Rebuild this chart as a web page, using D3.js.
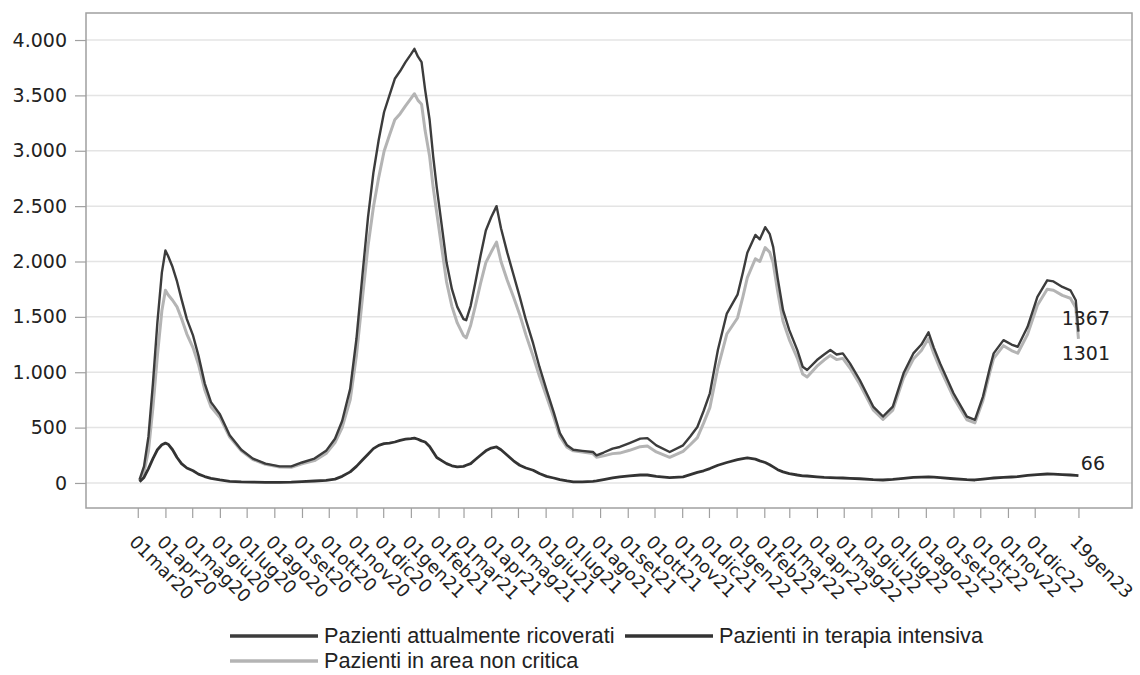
<!DOCTYPE html>
<html>
<head>
<meta charset="utf-8">
<script src="https://cdn.jsdelivr.net/npm/d3@7/dist/d3.min.js"></script>
<style>
  html, body { margin: 0; padding: 0; background: #ffffff; }
  svg { display: block; }
</style>
</head>
<body>
<svg id="chart" width="1140" height="675"></svg>
<script>
// ---------------- DATA ----------------
const dates = [
"2020-03-03","2020-03-08","2020-03-13","2020-03-18","2020-03-23","2020-03-28","2020-04-01","2020-04-04","2020-04-09","2020-04-14",
"2020-04-19","2020-04-25","2020-05-02","2020-05-08","2020-05-15","2020-05-22","2020-06-01","2020-06-12","2020-06-25","2020-07-08",
"2020-07-22","2020-08-07","2020-08-20","2020-09-01","2020-09-15","2020-09-28","2020-10-08","2020-10-16","2020-10-25","2020-11-01",
"2020-11-08","2020-11-14","2020-11-20","2020-11-26","2020-12-02","2020-12-08","2020-12-14","2020-12-20","2020-12-26","2021-01-01",
"2021-01-05","2021-01-09","2021-01-13","2021-01-17","2021-01-22","2021-01-26","2021-01-30","2021-02-05","2021-02-10","2021-02-16",
"2021-02-22","2021-03-01","2021-03-04","2021-03-09","2021-03-14","2021-03-20","2021-03-26","2021-04-01","2021-04-07","2021-04-12",
"2021-04-19","2021-04-26","2021-05-03","2021-05-10","2021-05-18","2021-05-25","2021-06-02","2021-06-10","2021-06-17","2021-06-25",
"2021-07-02","2021-07-12","2021-07-24","2021-07-28","2021-08-05","2021-08-15","2021-08-23","2021-09-03","2021-09-15","2021-09-23",
"2021-10-03","2021-10-18","2021-11-02","2021-11-10","2021-11-18","2021-11-25","2021-12-02","2021-12-11","2021-12-21","2022-01-02",
"2022-01-08","2022-01-13","2022-01-22","2022-01-27","2022-02-02","2022-02-07","2022-02-11","2022-02-16","2022-02-22","2022-03-01",
"2022-03-10","2022-03-16","2022-03-21","2022-04-01","2022-04-09","2022-04-16","2022-04-23","2022-04-30","2022-05-08","2022-05-19",
"2022-06-03","2022-06-14","2022-06-25","2022-07-07","2022-07-18","2022-07-27","2022-08-04","2022-08-10","2022-08-17","2022-09-01",
"2022-09-16","2022-09-25","2022-10-04","2022-10-12","2022-10-16","2022-10-27","2022-11-05","2022-11-12","2022-11-23","2022-12-04",
"2022-12-15","2022-12-22","2023-01-01","2023-01-10","2023-01-16","2023-01-19"
];

const ricoverati = [
30,150,420,900,1450,1900,2100,2050,1950,1820,
1660,1480,1330,1150,900,730,620,430,300,220,
175,150,150,185,220,290,400,560,850,1300,
1900,2400,2800,3100,3350,3500,3650,3720,3800,3870,
3920,3850,3800,3550,3280,2950,2670,2300,1990,1750,
1590,1480,1470,1600,1800,2050,2280,2400,2500,2300,
2080,1880,1680,1470,1260,1050,840,640,450,340,
300,290,280,250,275,310,325,360,400,405,
340,280,340,420,505,650,810,1200,1530,1700,
1900,2080,2240,2200,2310,2250,2130,1850,1560,1380,
1200,1050,1020,1110,1160,1200,1160,1170,1080,930,
690,600,690,990,1170,1250,1360,1220,1080,810,
600,570,780,1050,1170,1290,1250,1230,1410,1680,
1830,1820,1770,1740,1650,1367
];

const terapiaIntensiva = [
10,50,130,220,300,345,360,350,300,230,
175,135,110,80,58,42,28,15,10,8,
6,6,8,12,18,24,35,60,100,150,
210,260,310,340,355,360,370,385,395,400,
405,395,380,370,330,280,230,200,175,155,
145,150,160,175,210,250,290,315,325,300,
250,200,160,135,115,85,60,45,30,18,
10,10,15,18,30,45,55,65,72,72,
60,48,55,75,95,110,130,160,185,210,
220,226,215,200,185,165,145,120,100,85,
72,65,63,55,50,48,46,45,42,38,
30,27,32,42,50,53,55,52,48,38,
30,27,35,42,45,50,54,58,68,75,
81,80,76,72,68,66
];

const areaNonCritica = [
20,100,290,680,1150,1555,1740,1700,1650,1590,
1485,1345,1220,1070,842,688,592,415,290,212,
169,144,142,173,202,266,365,500,750,1150,
1690,2140,2490,2760,2995,3140,3280,3335,3405,3470,
3515,3455,3420,3180,2950,2670,2440,2100,1815,1595,
1445,1330,1310,1425,1590,1800,1990,2085,2175,2000,
1830,1680,1520,1335,1145,965,780,595,420,322,
290,280,265,232,245,265,270,295,328,333,
280,232,285,345,410,540,680,1040,1345,1490,
1680,1854,2025,2000,2125,2085,1985,1730,1460,1295,
1128,985,957,1055,1110,1152,1114,1125,1038,892,
660,573,658,948,1120,1197,1305,1168,1032,772,
570,543,745,1008,1125,1240,1196,1172,1342,1605,
1749,1740,1694,1668,1582,1301
];

const seriesNames = ["Pazienti attualmente ricoverati", "Pazienti in terapia intensiva", "Pazienti in area non critica"];

const xTickDates = [
"2020-03-01","2020-04-01","2020-05-01","2020-06-01","2020-07-01","2020-08-01","2020-09-01","2020-10-01","2020-11-01","2020-12-01",
"2021-01-01","2021-02-01","2021-03-01","2021-04-01","2021-05-01","2021-06-01","2021-07-01","2021-08-01","2021-09-01","2021-10-01",
"2021-11-01","2021-12-01","2022-01-01","2022-02-01","2022-03-01","2022-04-01","2022-05-01","2022-06-01","2022-07-01","2022-08-01",
"2022-09-01","2022-10-01","2022-11-01","2022-12-01","2023-01-19"
];
const xTickLabels = [
"01mar20","01apr20","01mag20","01giu20","01lug20","01ago20","01set20","01ott20","01nov20","01dic20",
"01gen21","01feb21","01mar21","01apr21","01mag21","01giu21","01lug21","01ago21","01set21","01ott21",
"01nov21","01dic21","01gen22","01feb22","01mar22","01apr22","01mag22","01giu22","01lug22","01ago22",
"01set22","01ott22","01nov22","01dic22","19gen23"
];
const yTicks = [0, 500, 1000, 1500, 2000, 2500, 3000, 3500, 4000];
const xDomain = ["2020-01-03", "2023-03-20"];
const yDomain = [-226, 4244];

// ---------------- CHART ----------------
const parse = d3.timeParse("%Y-%m-%d");
const svg = d3.select("#chart");

const plot = { left: 86, right: 1132, top: 13, bottom: 508 };

const x = d3.scaleTime().domain(xDomain.map(parse)).range([plot.left, plot.right]);
const y = d3.scaleLinear().domain(yDomain).range([plot.bottom, plot.top]);

const itLocale = d3.formatLocale({ decimal: ",", thousands: ".", grouping: [3], currency: ["€", ""] });
const fmt = itLocale.format(",d");

// gridlines
svg.append("g").selectAll("line").data(yTicks).join("line")
  .attr("x1", plot.left).attr("x2", plot.right)
  .attr("y1", d => y(d)).attr("y2", d => y(d))
  .attr("stroke", "#e4e4e4").attr("stroke-width", 1.5);

// frame
svg.append("rect")
  .attr("x", plot.left).attr("y", plot.top)
  .attr("width", plot.right - plot.left).attr("height", plot.bottom - plot.top)
  .attr("fill", "none").attr("stroke", "#a0a0a0").attr("stroke-width", 1.5);

// y axis
const yAxis = d3.axisLeft(y).tickValues(yTicks).tickFormat(fmt).tickSize(11).tickPadding(8);
const gy = svg.append("g").attr("transform", `translate(${plot.left},0)`).call(yAxis);
gy.select(".domain").remove();
gy.selectAll(".tick line").attr("stroke", "#a0a0a0").attr("stroke-width", 1.2);
gy.selectAll(".tick text").attr("fill", "#222").style("font-family", "DejaVu Sans, sans-serif").style("font-size", "19px");

// x axis
const tickDates = xTickDates.map(parse);
const xAxis = d3.axisBottom(x).tickValues(tickDates).tickFormat((d, i) => xTickLabels[i]).tickSize(10);
const gx = svg.append("g").attr("transform", `translate(0,${plot.bottom})`).call(xAxis);
gx.select(".domain").remove();
gx.selectAll(".tick line").attr("stroke", "#a0a0a0").attr("stroke-width", 1.2);
gx.selectAll(".tick text")
  .attr("x", null).attr("y", null).attr("dy", null)
  .attr("transform", "translate(-10,35) rotate(45)")
  .style("text-anchor", "start")
  .attr("fill", "#222")
  .style("font-family", "DejaVu Sans, sans-serif").style("font-size", "18px");

// lines
const pts = arr => arr.map((v, i) => ({ d: parse(dates[i]), v }));
const line = d3.line().x(p => x(p.d)).y(p => y(p.v)).curve(d3.curveLinear);

svg.append("path").datum(pts(areaNonCritica)).attr("d", line)
  .attr("fill", "none").attr("stroke", "#b4b4b4").attr("stroke-width", 3).attr("stroke-linejoin", "round");
svg.append("path").datum(pts(ricoverati)).attr("d", line)
  .attr("fill", "none").attr("stroke", "#3c3c3c").attr("stroke-width", 2.4).attr("stroke-linejoin", "round");
svg.append("path").datum(pts(terapiaIntensiva)).attr("d", line)
  .attr("fill", "none").attr("stroke", "#333333").attr("stroke-width", 2.8).attr("stroke-linejoin", "round");

// end labels
const lastIdx = dates.length - 1;
const endLabels = [
  { v: ricoverati[lastIdx], dy: -7, ax: 1110 },
  { v: areaNonCritica[lastIdx], dy: 21, ax: 1110 },
  { v: terapiaIntensiva[lastIdx], dy: -6, ax: 1105 }
];
svg.append("g").selectAll("text").data(endLabels).join("text")
  .attr("x", d => d.ax).attr("y", d => y(d.v) + d.dy)
  .attr("text-anchor", "end")
  .attr("fill", "#222")
  .style("font-family", "DejaVu Sans, sans-serif").style("font-size", "19px")
  .text(d => d.v);

// legend
const legendItems = [
  { name: seriesNames[0], color: "#3c3c3c", x: 230, y: 636 },
  { name: seriesNames[1], color: "#333333", x: 625, y: 636 },
  { name: seriesNames[2], color: "#b4b4b4", x: 230, y: 661 }
];
const lg = svg.append("g").selectAll("g").data(legendItems).join("g")
  .attr("transform", d => `translate(${d.x},${d.y})`);
lg.append("line").attr("x1", 0).attr("x2", 88).attr("y1", 0).attr("y2", 0)
  .attr("stroke", d => d.color).attr("stroke-width", 3.5);
lg.append("text").attr("x", 94).attr("y", 7)
  .attr("fill", "#222")
  .style("font-family", "'Liberation Sans', Arial, sans-serif").style("font-size", "21.7px")
  .text(d => d.name);
</script>
</body>
</html>
